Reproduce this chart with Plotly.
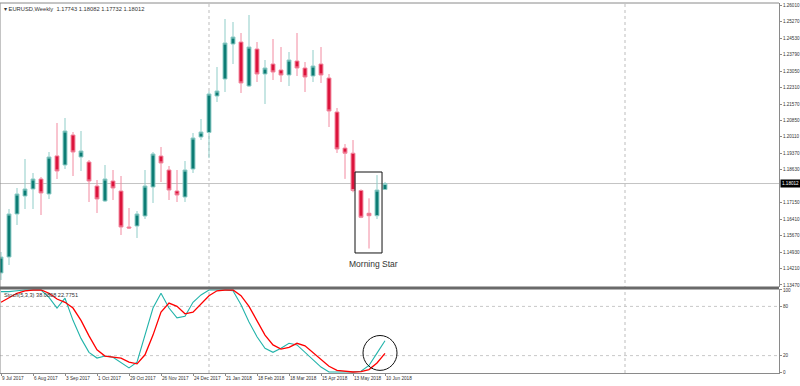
import plotly.graph_objects as go
import pandas as pd

# ---------------- data ----------------
dates = pd.date_range("2017-07-09", periods=49, freq="7D").strftime("%Y-%m-%d").tolist()

open_ = [1.14004, 1.14720, 1.16647, 1.17453, 1.17767, 1.18215, 1.17543, 1.19250, 1.18842, 1.20186,
         1.19200, 1.18976, 1.17901, 1.17229, 1.18125, 1.17677, 1.16064, 1.16109, 1.16557, 1.17856,
         1.19245, 1.18618, 1.17677, 1.17408, 1.18663, 1.20096, 1.20300, 1.21933, 1.22695, 1.24263,
         1.24352, 1.22381, 1.24039, 1.22919, 1.23367, 1.23098, 1.22874, 1.23501, 1.23188, 1.22829,
         1.23367, 1.22740, 1.21216, 1.19600, 1.19370, 1.17700, 1.16680, 1.16570, 1.17743]
high_ = [1.14944, 1.16871, 1.17812, 1.19111, 1.18484, 1.18304, 1.19424, 1.20724, 1.20948, 1.20320,
         1.20365, 1.19066, 1.18170, 1.18842, 1.18618, 1.18349, 1.16916, 1.16781, 1.18618, 1.19424,
         1.19648, 1.18797, 1.18618, 1.19021, 1.20276, 1.20903, 1.22150, 1.23232, 1.25383, 1.25248,
         1.24756, 1.25562, 1.24352, 1.23546, 1.24487, 1.24128, 1.23904, 1.24756, 1.23456, 1.23994,
         1.24128, 1.22919, 1.21396, 1.19780, 1.19960, 1.17750, 1.17350, 1.18390, 1.18082]
low_ = [1.13690, 1.14362, 1.16154, 1.16871, 1.16871, 1.16602, 1.17319, 1.18215, 1.18663, 1.18349,
        1.18573, 1.17184, 1.16692, 1.17184, 1.17274, 1.15706, 1.15975, 1.15572, 1.16423, 1.17140,
        1.18080, 1.17274, 1.17184, 1.17184, 1.18484, 1.19962, 1.19150, 1.21664, 1.22112, 1.23367,
        1.22068, 1.22336, 1.22560, 1.21575, 1.22650, 1.22560, 1.22381, 1.22829, 1.22112, 1.22560,
        1.22516, 1.20544, 1.19380, 1.18220, 1.17620, 1.16460, 1.15100, 1.16420, 1.17732]
close_ = [1.14720, 1.16647, 1.17543, 1.17767, 1.18215, 1.17588, 1.19200, 1.18573, 1.20365, 1.19424,
          1.19469, 1.18125, 1.17319, 1.18215, 1.17812, 1.16064, 1.16020, 1.16647, 1.17901, 1.19335,
          1.18932, 1.17722, 1.17498, 1.18618, 1.20052, 1.20320, 1.22023, 1.22157, 1.24308, 1.24576,
          1.22516, 1.24128, 1.22919, 1.23188, 1.23008, 1.22874, 1.23546, 1.23188, 1.22784, 1.23277,
          1.22874, 1.21261, 1.19559, 1.19370, 1.17700, 1.16500, 1.16570, 1.17720, 1.18012]

stoch_k = [98, 98, 99, 100, 100, 100, 91, 78, 90, 63, 41, 24, 17, 19.5, 18, 12, 5, 12, 45, 78,
           96, 78, 66, 68, 85, 94, 100, 100, 100, 99, 82, 61, 43, 29, 24, 29, 35, 33, 24, 15,
           6, 0, 0, 0.5, 0, 1, 8, 23, 38.0808]
stoch_d = [85, 91, 96, 99, 100, 100, 96, 89, 85, 78, 63, 44, 27, 19.5, 18, 17, 12, 10, 21, 45,
           73, 84, 80, 71, 73, 83, 93, 99, 100, 100, 93, 80, 62, 45, 33, 28, 30, 35, 32, 24,
           16, 7, 2, 1, 0, 0.5, 3, 11, 22.7751]

price_tickvals = [1.26010, 1.25270, 1.24530, 1.23790, 1.23050, 1.22310, 1.21570, 1.20850, 1.20110,
                  1.19370, 1.18630, 1.17150, 1.16410, 1.15670, 1.14930, 1.14210, 1.13470]
price_ticktext = ["%.5f" % v for v in price_tickvals]
date_tickvals = dates[::4]
date_ticktext = ["9 Jul 2017", "6 Aug 2017", "3 Sep 2017", "1 Oct 2017", "29 Oct 2017",
                 "26 Nov 2017", "24 Dec 2017", "21 Jan 2018", "18 Feb 2018", "18 Mar 2018",
                 "15 Apr 2018", "13 May 2018", "10 Jun 2018"]
stoch_tickvals = [0, 20, 80, 100]
separators = ["2018-01-07", "2019-01-06"]
last_price = 1.18012

# ---------------- style ----------------
FONT = "Liberation Sans"
FS_TITLE = 5.75
FS_STOCH = 5.6
FS_DATE = 4.7
FS_AX = 4.6
TXT = "#333333"
AX = "#8a8a8a"
UP_BODY, UP_LINE = "#0c7c74", "#8fcdc8"
DN_BODY, DN_LINE = "#dc143c", "#f28aa0"

t0 = pd.Timestamp(dates[0])
def wk(w):
    return (t0 + pd.Timedelta(days=7 * w)).strftime("%Y-%m-%d %H:%M")
def near(i, days):
    return (pd.Timestamp(dates[i]) + pd.Timedelta(days=days)).strftime("%Y-%m-%d %H:%M")

fig = go.Figure()
fig.add_trace(go.Candlestick(
    x=dates, open=open_, high=high_, low=low_, close=close_,
    increasing=dict(line=dict(color=UP_LINE, width=1), fillcolor=UP_BODY),
    decreasing=dict(line=dict(color=DN_LINE, width=1), fillcolor=DN_BODY),
    whiskerwidth=0, showlegend=False, hoverinfo="skip", xaxis="x", yaxis="y"))
fig.add_trace(go.Scatter(x=dates, y=stoch_k, mode="lines", line=dict(color="#22b3aa", width=1.1),
                         showlegend=False, hoverinfo="skip", xaxis="x", yaxis="y2"))
fig.add_trace(go.Scatter(x=dates, y=stoch_d, mode="lines", line=dict(color="#ff0000", width=1.3),
                         showlegend=False, hoverinfo="skip", xaxis="x", yaxis="y2"))

main_bottom = (373 - 287) / 370.0
stoch_top = (373 - 289) / 370.0

fig.update_layout(
    width=800, height=386,
    margin=dict(l=0, r=21, t=3, b=13, autoexpand=False),
    paper_bgcolor="white", plot_bgcolor="white",
    font=dict(family=FONT, size=FS_DATE, color=TXT),
    xaxis=dict(type="date", range=[wk(-0.125), wk(97.25)], anchor="y2",
               tickvals=date_tickvals, ticktext=date_ticktext, ticks="outside", ticklen=2,
               tickcolor=AX, showline=True, linecolor=AX, linewidth=1, showgrid=False,
               zeroline=False, ticklabelposition="outside right", tickangle=0,
               tickfont=dict(family=FONT, size=FS_DATE, color=TXT), automargin=False,
               rangeslider=dict(visible=False), fixedrange=True),
    yaxis=dict(domain=[main_bottom, 1], range=[1.13376, 1.26100], side="right", anchor="x",
               tickvals=price_tickvals, ticktext=price_ticktext, ticks="outside", ticklen=2,
               tickcolor=AX, showline=True, linecolor=AX, linewidth=1, showgrid=False,
               zeroline=False, automargin=False, ticklabelstandoff=0,
               tickfont=dict(family=FONT, size=FS_AX, color=TXT)),
    yaxis2=dict(domain=[0, stoch_top], range=[-1.2, 101.2], side="right", anchor="x",
                tickvals=stoch_tickvals, ticktext=[str(v) for v in stoch_tickvals],
                ticks="outside", ticklen=2, tickcolor=AX, showline=True, linecolor=AX,
                linewidth=1, showgrid=False, zeroline=False, automargin=False,
                ticklabelstandoff=0, tickfont=dict(family=FONT, size=FS_AX, color=TXT)),
)

shapes = []
# borders
shapes.append(dict(type="line", xref="paper", yref="paper", x0=0, x1=1, y0=1, y1=1,
                   line=dict(color=AX, width=1)))
shapes.append(dict(type="line", xref="paper", yref="paper", x0=0, x1=0, y0=0, y1=1,
                   line=dict(color=AX, width=1)))
shapes.append(dict(type="line", xref="paper", yref="paper", x0=0, x1=1,
                   y0=(373 - 288) / 370.0, y1=(373 - 288) / 370.0,
                   line=dict(color="#6a6a6a", width=3)))
# current price line
shapes.append(dict(type="line", xref="paper", yref="y", x0=0, x1=1, y0=last_price, y1=last_price,
                   line=dict(color="#c4c4c4", width=1), layer="below"))
# period separators
for s in separators:
    shapes.append(dict(type="line", xref="x", yref="paper", x0=s, x1=s, y0=0, y1=1,
                       line=dict(color="#bdbdbd", width=1, dash="dot"), layer="below"))
# stochastic levels
for lv in (20, 80):
    shapes.append(dict(type="line", xref="paper", yref="y2", x0=0, x1=1, y0=lv, y1=lv,
                       line=dict(color="#c8c8c8", width=1, dash="dot"), layer="below"))
# morning star box
shapes.append(dict(type="rect", xref="x", yref="y", x0=near(45, -5.25), x1=near(47, 4.4),
                   y0=1.14900, y1=1.18528, line=dict(color="#111111", width=1)))
# circle on stochastic
shapes.append(dict(type="circle", xref="x", yref="y2", x0=near(45, 1.75), x1=near(48, 10.5),
                   y0=2.0, y1=44.5, line=dict(color="#111111", width=1)))
fig.update_layout(shapes=shapes)

annotations = [
    dict(xref="paper", yref="paper", x=0, y=1, xanchor="left", yanchor="top", xshift=2, yshift=-1,
         text="▾ EURUSD,Weekly  1.17743 1.18082 1.17732 1.18012", showarrow=False,
         font=dict(family=FONT, size=FS_TITLE, color=TXT)),
    dict(xref="paper", yref="y", x=1, y=last_price, xanchor="left", yanchor="middle", xshift=1,
         text="1.18012", showarrow=False, bgcolor="#000000", borderpad=1,
         font=dict(family=FONT, size=FS_AX, color="#ffffff")),
    dict(xref="paper", yref="paper", x=0, y=stoch_top, xanchor="left", yanchor="top", xshift=2,
         yshift=-1, text="Stoch(5,3,3) 38.0808 22.7751", showarrow=False,
         font=dict(family=FONT, size=FS_STOCH, color=TXT)),
    dict(xref="x", yref="y", x=near(46, 3.5), y=1.14407, xanchor="center", yanchor="middle",
         text="Morning Star", showarrow=False, font=dict(family=FONT, size=8.5, color=TXT)),
]
fig.update_layout(annotations=annotations)

fig.write_html("out.html", config={"displayModeBar": False},
               post_script="document.body.style.margin='0px';")
